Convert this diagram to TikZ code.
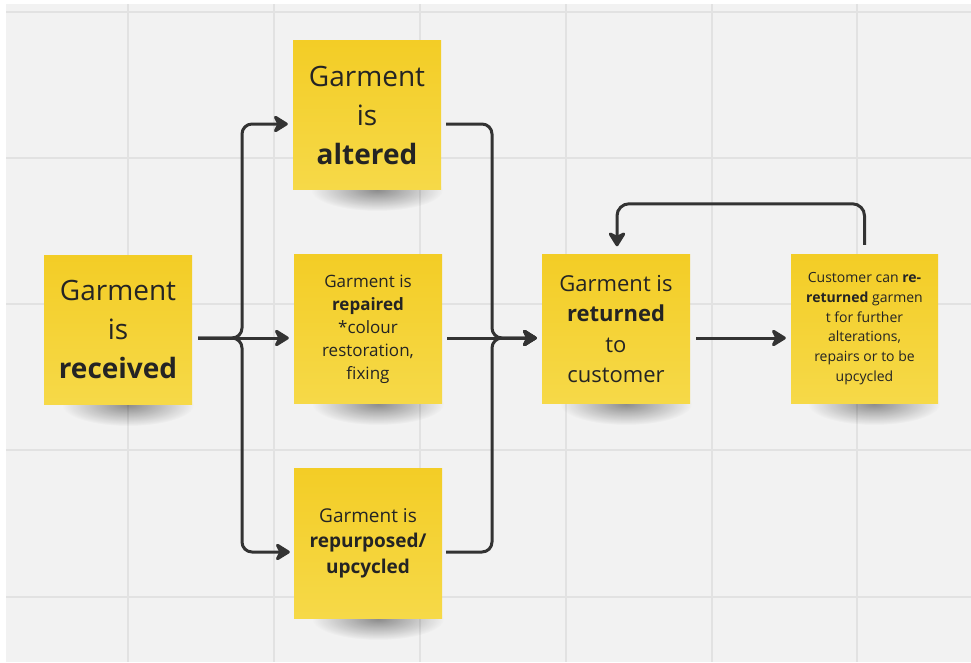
\documentclass[tikz,border=0pt]{standalone}
\usepackage{fontspec}
\setmainfont{Open Sans}
\usetikzlibrary{arrows.meta,fadings}
\definecolor{bg}{RGB}{242,242,242}
\definecolor{gridc}{RGB}{226,226,226}
\definecolor{noteTop}{RGB}{243,205,38}
\definecolor{noteBot}{RGB}{246,217,72}
\definecolor{ink}{RGB}{51,51,51}
\definecolor{txt}{RGB}{36,36,36}
\tikzfading[name=softfade, inner color=transparent!0, outer color=transparent!100]
\newcommand{\noteshadow}[2]{\fill[black, opacity=0.42, path fading=softfade] (#1,#2) ellipse [x radius=66pt, y radius=21pt];}
\begin{document}
\begin{tikzpicture}[x=1pt,y=-1pt,
  note/.style={minimum width=148pt, minimum height=149pt, inner sep=0pt, align=center,
    top color=noteTop, bottom color=noteBot, text=txt},
  conn/.style={draw=ink, line width=3pt, rounded corners=10pt,
    -{Stealth[length=17pt,width=21pt,inset=5pt,round]}},
  gridline/.style={draw=gridc, line width=2pt},
  big/.style={font=\fontsize{28}{39}\selectfont},
  mid/.style={font=\fontsize{22}{30.5}\selectfont},
  med/.style={font=\fontsize{19}{25.5}\selectfont},
  small/.style={font=\fontsize{17}{23}\selectfont},
  tiny/.style={font=\fontsize{14}{19.7}\selectfont}
]
\useasboundingbox (0,0) rectangle (971,662);
\fill[white] (0,0) rectangle (971,662);
\fill[bg] (6,4) rectangle (971,662);
\foreach \x in {128,274,420,566,712,857} \draw[gridline] (\x,4) -- (\x,662);
\foreach \y in {12,158,304,450,597} \draw[gridline] (6,\y) -- (971,\y);

% shadows
\noteshadow{128}{405}
\noteshadow{377}{190}
\noteshadow{378}{404}
\noteshadow{378}{619}
\noteshadow{626}{404}
\noteshadow{874}{404}

% notes
\node[note, big] (rec) at (118,329.5) {Garment\\is\\\textbf{received}};
\node[note, big] (alt) at (367,115) {Garment\\is\\\textbf{altered}};
\node[note, small] (rep) at (368,329) {Garment is\\\textbf{repaired}\\*colour\\restoration,\\fixing};
\node[note, med, minimum height=150pt] (pur) at (368,543) {Garment is\\\textbf{repurposed/}\\\textbf{upcycled}};
\node[note, mid] (ret) at (616,329) {Garment is\\\textbf{returned}\\to\\customer};
\node[note, tiny, minimum width=147pt] (cus) at (864.5,328.5) {Customer can \textbf{re-}\\\textbf{returned} garmen\\t for further\\alterations,\\repairs or to be\\upcycled};

\coordinate (jl) at (242,338);
\coordinate (jr) at (492,338);

% left fan-out
\draw[conn] ([shift={(6,8.5)}]rec.east) -- (jl) |- ([shift={(-5,9)}]alt.west);
\draw[conn] ([shift={(6,8.5)}]rec.east) -- ([shift={(-5,9)}]rep.west);
\draw[conn] ([shift={(6,8.5)}]rec.east) -- (jl) |- ([shift={(-4,9)}]pur.west);

% right fan-in
\draw[conn] ([shift={(5,9)}]alt.east) -| (jr) -- ([shift={(-5,9)}]ret.west);
\draw[conn] ([shift={(5,9)}]rep.east) -- ([shift={(-5,9)}]ret.west);
\draw[conn] ([shift={(4,9)}]pur.east) -| (jr) -- ([shift={(-5,9)}]ret.west);

% to customer
\draw[conn] ([shift={(6,9)}]ret.east) -- ([shift={(-5,9.5)}]cus.west);

% feedback
\draw[conn, rounded corners=12pt] ([shift={(0,-9)}]cus.north) -- ++(0,-41) -| ([shift={(1,-8)}]ret.north);
\end{tikzpicture}
\end{document}
